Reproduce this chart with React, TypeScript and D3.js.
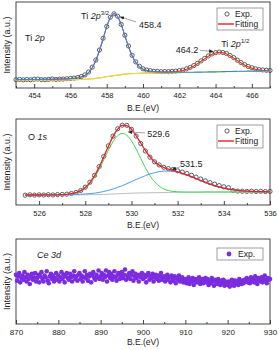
import React, { useRef, useEffect } from 'react';
import { select, scaleLinear, line, curveMonotoneX, axisBottom } from 'd3';

// Ti 2p region, 0.2 eV steps from 453 eV
const tiStart = 453;
const tiStep = 0.2;
const tiExp = [9.6, 10.0, 9.5, 9.9, 9.6, 10.2, 10.4, 9.8, 9.7, 10.0, 10.5, 10.0, 10.3, 10.4, 10.8, 11.1, 11.5, 12.2, 13.3, 15.2,
  18.6, 24.2, 32.5, 44.2, 57.8, 71.6, 82.3, 86.2, 83.5, 74.0, 61.3, 48.9, 38.0, 30.4, 25.3, 22.3, 20.9, 20.1, 19.4, 19.3,
  19.0, 19.1, 19.0, 19.4, 19.6, 20.2, 20.8, 22.3, 23.9, 26.1, 28.6, 31.5, 34.4, 37.3, 39.6, 41.1, 41.8, 41.3, 40.1, 37.8,
  35.3, 32.4, 29.6, 27.2, 25.1, 23.6, 22.3, 21.4, 21.0, 20.6, 20.4];
const tiBg = [9.5, 9.5, 9.5, 9.5, 9.5, 9.5, 9.5, 9.5, 9.5, 9.5, 9.5, 9.5, 9.5, 9.5, 9.5, 9.6, 9.6, 9.7, 9.9, 10.1,
  10.3, 10.7, 11.2, 11.8, 12.4, 13.2, 13.8, 14.4, 15.0, 15.6, 16.1, 16.5, 16.7, 16.9, 17.1, 17.3, 17.4, 17.4, 17.4, 17.5,
  17.5, 17.5, 17.6, 17.7, 17.7, 17.7, 17.8, 17.8, 17.9, 18.0, 18.1, 18.1, 18.2, 18.3, 18.4, 18.5, 18.6, 18.7, 18.9, 18.9,
  19.0, 19.1, 19.2, 19.2, 19.3, 19.3, 19.4, 19.4, 19.5, 19.5, 19.5];
const tiPeak32 = [9.8, 9.8, 9.8, 9.8, 9.9, 9.9, 9.9, 10.0, 10.0, 10.1, 10.2, 10.3, 10.4, 10.5, 10.6, 10.9, 11.2, 11.8, 12.9, 14.7,
  18.0, 23.6, 32.0, 43.6, 57.2, 71.3, 81.9, 86.4, 83.1, 73.7, 60.9, 48.3, 37.5, 29.8, 24.8, 21.9, 20.4, 19.5, 19.0, 18.8,
  18.6, 18.5, 18.5, 18.4, 18.4, 18.3, 18.3, 18.3, 18.4, 18.4, 18.5, 18.5, 18.6, 18.7, 18.8, 18.8, 18.9, 19.0, 19.2, 19.2,
  19.3, 19.4, 19.4, 19.5, 19.6, 19.6, 19.6, 19.6, 19.7, 19.7, 19.7];
const tiPeak12 = [9.5, 9.5, 9.5, 9.5, 9.5, 9.5, 9.5, 9.5, 9.5, 9.5, 9.5, 9.5, 9.5, 9.5, 9.5, 9.6, 9.6, 9.7, 9.9, 10.1,
  10.3, 10.7, 11.2, 11.8, 12.4, 13.2, 13.8, 14.4, 15.0, 15.6, 16.1, 16.5, 16.7, 16.9, 17.1, 17.3, 17.4, 17.4, 17.4, 17.5,
  17.6, 17.6, 17.8, 18.1, 18.5, 19.1, 20.0, 21.3, 23.0, 25.2, 27.9, 30.7, 33.7, 36.6, 38.9, 40.5, 41.1, 40.7, 39.4, 37.2,
  34.5, 31.7, 29.0, 26.4, 24.4, 22.8, 21.6, 20.8, 20.3, 19.9, 19.7];
const tiFit = [9.8, 9.8, 9.8, 9.8, 9.9, 9.9, 9.9, 10.0, 10.0, 10.1, 10.2, 10.3, 10.4, 10.5, 10.6, 10.9, 11.2, 11.8, 12.9, 14.7,
  18.0, 23.6, 32.0, 43.6, 57.2, 71.3, 81.9, 86.4, 83.1, 73.7, 60.9, 48.3, 37.5, 29.8, 24.8, 21.9, 20.4, 19.5, 19.0, 18.8,
  18.7, 18.6, 18.7, 18.9, 19.2, 19.7, 20.5, 21.8, 23.5, 25.6, 28.3, 31.1, 34.1, 37.0, 39.3, 40.8, 41.4, 41.0, 39.7, 37.5,
  34.8, 32.0, 29.2, 26.7, 24.7, 23.1, 21.8, 21.0, 20.5, 20.2, 19.9];
const tiTicks = [454, 456, 458, 460, 462, 464, 466];
const tiMinor = [453, 455, 457, 459, 461, 463, 465, 467];

// O 1s region, 0.2 eV steps from 525.4 eV
const oStart = 525.4;
const oStep = 0.2;
const oExp = [11.4, 11.9, 11.5, 11.8, 11.6, 12.0, 11.7, 12.1, 12.3, 12.6, 13.4, 14.6, 16.9, 20.8, 26.5, 34.4, 44.6, 56.5, 68.8, 80.1,
  88.6, 92.8, 92.6, 88.0, 80.2, 71.5, 62.8, 55.6, 50.2, 46.6, 43.9, 42.3, 41.2, 39.8, 38.3, 36.7, 34.6, 32.4, 30.2, 28.1,
  26.0, 24.3, 22.6, 21.2, 20.1, 16.8, 16.2, 16.0, 15.8, 16.1, 15.7, 15.9, 15.6, 15.8];
const oBg = [11.6, 11.6, 11.6, 11.6, 11.7, 11.7, 11.7, 11.7, 11.7, 11.8, 11.8, 11.8, 11.9, 11.9, 12.0, 12.0, 12.1, 12.3, 12.5, 12.7,
  13.0, 13.2, 13.5, 13.7, 13.9, 14.0, 14.1, 14.2, 14.3, 14.4, 14.5, 14.6, 14.7, 14.8, 14.9, 14.9, 15.0, 15.0, 15.0, 15.1,
  15.1, 15.1, 15.1, 15.1, 15.1, 15.2, 15.2, 15.2, 15.2, 15.2, 15.2, 15.2, 15.2, 15.2];
const oLattice = [11.6, 11.6, 11.6, 11.6, 11.7, 11.7, 11.7, 11.7, 11.9, 12.3, 12.9, 14.0, 16.1, 19.5, 24.8, 32.1, 41.5, 52.5, 63.7, 73.6,
  80.6, 83.2, 81.1, 74.6, 65.1, 54.2, 43.5, 34.3, 27.1, 22.0, 18.7, 16.8, 15.8, 15.3, 15.1, 15.0, 15.0, 15.0, 15.0, 15.1,
  15.1, 15.1, 15.1, 15.1, 15.1, 15.2, 15.2, 15.2, 15.2, 15.2, 15.2, 15.2, 15.2, 15.2];
const oSurface = [11.6, 11.6, 11.6, 11.6, 11.7, 11.7, 11.7, 11.8, 11.8, 12.0, 12.1, 12.2, 12.5, 12.8, 13.3, 13.8, 14.6, 15.7, 17.0, 18.6,
  20.5, 22.5, 24.8, 27.2, 29.6, 31.9, 34.1, 36.0, 37.6, 38.8, 39.4, 39.5, 39.1, 38.1, 36.7, 34.9, 32.9, 30.7, 28.5, 26.4,
  24.4, 22.6, 21.0, 19.6, 18.5, 17.7, 17.0, 16.5, 16.1, 15.8, 15.6, 15.5, 15.4, 15.3];
const oFit = [11.6, 11.6, 11.6, 11.6, 11.7, 11.7, 11.7, 11.8, 12.0, 12.4, 13.1, 14.4, 16.7, 20.4, 26.1, 33.9, 44.0, 55.9, 68.2, 79.5,
  88.1, 92.5, 92.4, 88.1, 80.8, 72.1, 63.5, 56.1, 50.4, 46.4, 43.6, 41.7, 40.2, 38.6, 36.9, 35.0, 32.9, 30.7, 28.5, 26.4,
  24.4, 22.6, 21.0, 19.6, 18.5, 17.7, 17.0, 16.5, 16.1, 15.8, 15.6, 15.5, 15.4, 15.3];
const oTicks = [526, 528, 530, 532, 534, 536];
const oMinor = [527, 529, 531, 533, 535];

// Ce 3d region, 0.25 eV steps from 870 eV
const ceStart = 870;
const ceStep = 0.25;
const ceExp = [
  58, 51, 56, 60, 49, 54, 57, 52, 61, 55, 50, 58, 53, 47, 56, 59, 52, 55, 60, 50,
  54, 58, 49, 56, 61, 53, 50, 57, 55, 62, 51, 48, 56, 59, 53, 57, 50, 54, 60, 52,
  57, 50, 55, 61, 53, 58, 49, 56, 60, 54, 52, 59, 55, 50, 57, 62, 53, 56, 51, 58,
  60, 53, 57, 50, 55, 62, 54, 58, 51, 56, 59, 49, 57, 61, 54, 52, 58, 55, 63, 53,
  56, 60, 52, 58, 55, 63, 50, 57, 61, 54, 59, 52, 56, 62, 55, 51, 58, 60, 53, 57,
  61, 54, 58, 64, 52, 57, 55, 60, 53, 58, 62, 51, 56, 59, 54, 57, 50, 58, 55, 60,
  53, 58, 55, 49, 57, 60, 52, 56, 54, 59, 50, 55, 58, 53, 57, 51, 56, 60, 52, 55,
  56, 50, 54, 58, 52, 55, 49, 57, 53, 51, 56, 48, 54, 52, 57, 50, 53, 55, 49, 52,
  53, 48, 51, 55, 47, 52, 50, 54, 46, 51, 53, 49, 52, 55, 47, 50, 53, 48, 51, 54,
  49, 53, 46, 51, 48, 54, 50, 45, 52, 49, 47, 53, 50, 46, 51, 48, 52, 45, 50, 47,
  46, 50, 44, 49, 52, 47, 45, 51, 48, 50, 46, 53, 49, 47, 51, 48, 52, 50, 54, 49,
  52, 48, 55, 50, 53, 49, 56, 51, 47, 54, 52, 50, 55, 49, 53, 57, 51, 48, 54, 52,
  53];
const ceTicks = [870, 880, 890, 900, 910, 920, 930];
const ceMinor = [875, 885, 895, 905, 915, 925];

const font = '"Liberation Sans", Arial, sans-serif';
const left = 16;
const right = 270;

const App = () => {
  const svgRef = useRef(null);

  useEffect(() => {
    const svgEl = select(svgRef.current);
    svgEl.selectAll('*').remove();

    svgEl.append('defs')
      .append('marker')
      .attr('id', 'arrow')
      .attr('viewBox', '0 0 6 6')
      .attr('refX', 5.5)
      .attr('refY', 3)
      .attr('markerWidth', 5)
      .attr('markerHeight', 5)
      .attr('orient', 'auto')
      .append('path')
      .attr('d', 'M0,0.6 L6,3 L0,5.4 Z')
      .attr('fill', '#222');

    const makePanel = (top, bottom, domain, majors, minors, tickFont, tickPad, titleY) => {
      const x = scaleLinear().domain(domain).range([left, right]);
      const y = scaleLinear().domain([0, 100]).range([bottom, top]);
      const g = svgEl.append('g');

      const minorGroup = g.append('g')
        .attr('transform', `translate(0, ${bottom})`)
        .call(axisBottom(x).tickValues(minors).tickSize(-2).tickFormat(() => ''));
      minorGroup.select('.domain').remove();

      const majorGroup = g.append('g')
        .attr('transform', `translate(0, ${bottom})`)
        .call(axisBottom(x).tickValues(majors).tickSize(-4).tickPadding(tickPad));
      majorGroup.select('.domain').remove();
      g.selectAll('.tick line').attr('stroke', '#333').attr('stroke-width', 0.9);
      majorGroup.selectAll('text')
        .attr('font-family', font)
        .attr('font-size', tickFont)
        .attr('fill', '#222');

      g.append('rect')
        .attr('x', left)
        .attr('y', top)
        .attr('width', right - left)
        .attr('height', bottom - top)
        .attr('fill', 'none')
        .attr('stroke', '#333')
        .attr('stroke-width', 0.9);

      g.append('text')
        .attr('x', (left + right) / 2)
        .attr('y', titleY)
        .attr('text-anchor', 'middle')
        .attr('font-family', font)
        .attr('font-size', 8.5)
        .attr('fill', '#222')
        .text('B.E.(eV)');

      g.append('text')
        .attr('transform', `translate(9.5, ${(top + bottom) / 2}) rotate(-90)`)
        .attr('text-anchor', 'middle')
        .attr('font-family', font)
        .attr('font-size', 9)
        .attr('fill', '#222')
        .text('Intensity (a.u.)');

      return { x, y, g };
    };

    const drawLine = (g, x, y, values, start, step, color, width) => {
      const path = line()
        .x((d, i) => x(start + i * step))
        .y(d => y(d))
        .curve(curveMonotoneX);
      g.append('path')
        .attr('d', path(values))
        .attr('fill', 'none')
        .attr('stroke', color)
        .attr('stroke-width', width);
    };

    const drawCircles = (g, x, y, values, start, step) => {
      g.append('g')
        .selectAll('circle')
        .data(values)
        .enter()
        .append('circle')
        .attr('cx', (d, i) => x(start + i * step))
        .attr('cy', d => y(d))
        .attr('r', 2.1)
        .attr('fill', 'none')
        .attr('stroke', '#3a3a3a')
        .attr('stroke-width', 0.8);
    };

    const label = (g, px, py, parts, size = 9, anchor = 'start') => {
      const t = g.append('text')
        .attr('x', px)
        .attr('y', py)
        .attr('text-anchor', anchor)
        .attr('font-family', font)
        .attr('font-size', size)
        .attr('fill', '#222');
      parts.forEach(p => {
        const s = t.append('tspan').text(p.text);
        if (p.italic) s.attr('font-style', 'italic');
        if (p.sup) s.attr('font-size', 6).attr('dy', -4);
      });
    };

    const arrow = (g, x1, y1, x2, y2) => {
      g.append('line')
        .attr('x1', x1).attr('y1', y1)
        .attr('x2', x2).attr('y2', y2)
        .attr('stroke', '#999')
        .attr('stroke-width', 0.9)
        .attr('marker-end', 'url(#arrow)');
    };

    const legend = (g, top, boxH, withFit, dotted) => {
      g.append('rect')
        .attr('x', 217).attr('y', top)
        .attr('width', 46).attr('height', boxH)
        .attr('fill', '#fff')
        .attr('stroke', '#777')
        .attr('stroke-width', 0.7);
      const rowY = top + (withFit ? 6 : boxH / 2);
      if (dotted) {
        g.append('circle').attr('cx', 229).attr('cy', rowY).attr('r', 2.4).attr('fill', '#7b2be0');
        label(g, 238, rowY + 3, [{ text: 'Exp.' }], 8.5);
      } else {
        g.append('circle').attr('cx', 227).attr('cy', rowY).attr('r', 2.1)
          .attr('fill', 'none').attr('stroke', '#3a3a3a').attr('stroke-width', 0.8);
        label(g, 235, rowY + 3, [{ text: 'Exp.' }], 8.5);
      }
      if (withFit) {
        g.append('line')
          .attr('x1', 218).attr('x2', 234)
          .attr('y1', top + 16).attr('y2', top + 16)
          .attr('stroke', '#e8202a').attr('stroke-width', 1.4);
        label(g, 235, top + 19, [{ text: 'Fitting' }], 8.5);
      }
    };

    // Ti 2p
    const p1 = makePanel(2, 88, [453, 467], tiTicks, tiMinor, 7.5, 4.2, 111);
    drawCircles(p1.g, p1.x, p1.y, tiExp, tiStart, tiStep);
    drawLine(p1.g, p1.x, p1.y, tiPeak12, tiStart, tiStep, '#f2a23a', 1.1);
    drawLine(p1.g, p1.x, p1.y, tiBg, tiStart, tiStep, '#e4e646', 1);
    drawLine(p1.g, p1.x, p1.y, tiFit, tiStart, tiStep, '#e8202a', 1);
    drawLine(p1.g, p1.x, p1.y, tiPeak32, tiStart, tiStep, '#3a86d8', 1.1);
    label(p1.g, 25, 41, [{ text: 'Ti ' }, { text: '2p', italic: true }]);
    const t1x = p1.x(458.4);
    const t1y = p1.y(86.2);
    label(p1.g, t1x - 33, t1y + 5, [{ text: 'Ti ' }, { text: '2p', italic: true }, { text: '3/2', sup: true }]);
    arrow(p1.g, t1x + 22, t1y + 8, t1x + 6, t1y + 3);
    label(p1.g, t1x + 25, t1y + 14, [{ text: '458.4' }]);
    const t2x = p1.x(464.2);
    const t2y = p1.y(41.4);
    label(p1.g, t2x - 21, t2y + 1, [{ text: '464.2' }], 9, 'end');
    arrow(p1.g, t2x - 19, t2y - 2, t2x - 6, t2y - 1);
    label(p1.g, t2x + 2, t2y - 5, [{ text: 'Ti ' }, { text: '2p', italic: true }, { text: '1/2', sup: true }]);
    legend(p1.g, 8, 22, true, false);

    // O 1s
    const p2 = makePanel(119, 205, [525, 536], oTicks, oMinor, 7.5, 5.2, 228);
    drawCircles(p2.g, p2.x, p2.y, oExp, oStart, oStep);
    drawLine(p2.g, p2.x, p2.y, oBg, oStart, oStep, '#bdbdbd', 1);
    drawLine(p2.g, p2.x, p2.y, oLattice, oStart, oStep, '#44d654', 1);
    drawLine(p2.g, p2.x, p2.y, oSurface, oStart, oStep, '#4aa0ee', 1);
    drawLine(p2.g, p2.x, p2.y, oFit, oStart, oStep, '#e8202a', 1.3);
    label(p2.g, 28, 140, [{ text: 'O ' }, { text: '1s', italic: true }]);
    const o1x = p2.x(529.6);
    const o1y = p2.y(92.5);
    arrow(p2.g, o1x + 23, o1y + 7.5, o1x + 6, o1y + 6.5);
    label(p2.g, o1x + 25, o1y + 11.5, [{ text: '529.6' }]);
    const o2x = p2.x(531.5);
    const o2y = p2.y(41);
    arrow(p2.g, o2x + 14, o2y - 3, o2x + 6, o2y);
    label(p2.g, o2x + 14, o2y - 3, [{ text: '531.5' }]);
    legend(p2.g, 125, 23, true, false);

    // Ce 3d
    const p3 = makePanel(239, 324, [870, 930], ceTicks, ceMinor, 8, 5.3, 345);
    p3.g.append('g')
      .selectAll('circle')
      .data(ceExp)
      .enter()
      .append('circle')
      .attr('cx', (d, i) => p3.x(ceStart + i * ceStep))
      .attr('cy', d => p3.y(d))
      .attr('r', 2.3)
      .attr('fill', '#7b2be0');
    label(p3.g, 37, 258, [{ text: 'Ce 3d', italic: true }]);
    legend(p3.g, 248, 12, false, true);
  }, []);

  return (
    <div style={{ position: 'absolute', left: 0, top: 0 }}>
      <svg ref={svgRef} width={279} height={350} style={{ display: 'block', background: '#fff' }}></svg>
    </div>
  );
};

export default App;
